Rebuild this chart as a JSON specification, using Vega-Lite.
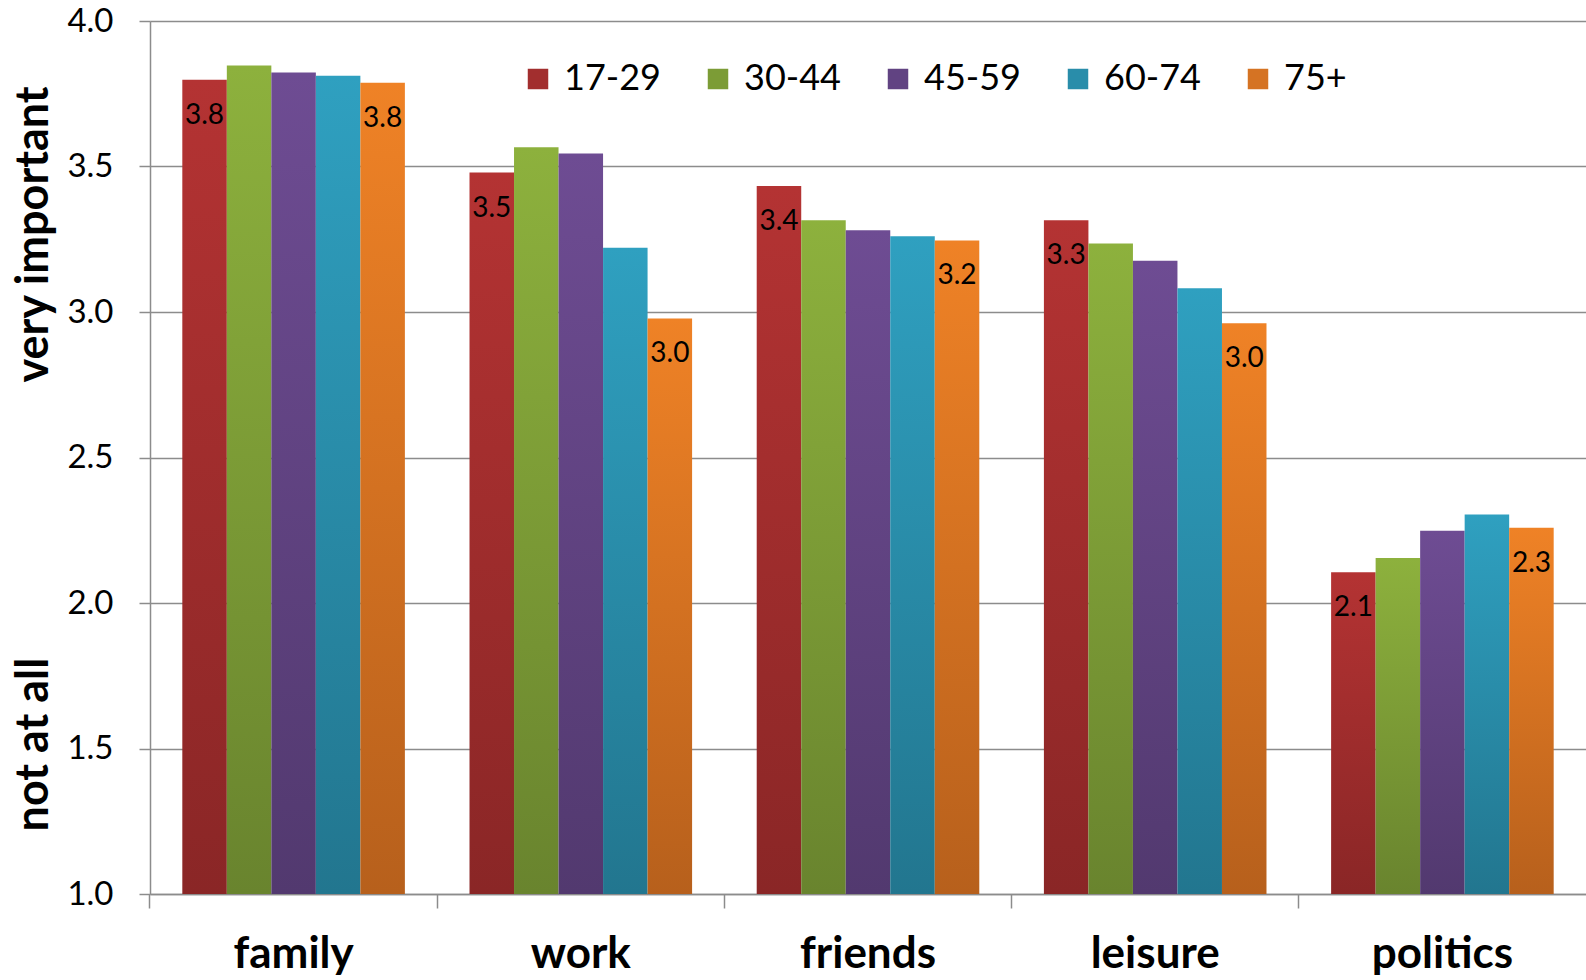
{
  "$schema": "https://vega.github.io/schema/vega-lite/v6.json",
  "width": 1436,
  "height": 873,
  "autosize": {"type": "none"},
  "padding": {"left": 150, "top": 21, "right": 0, "bottom": 86},
  "background": "white",
  "config": {"view": {"stroke": null}, "font": "Lato"},
  "data": {
    "values": [
      {"category": "family", "age": "17-29", "value": 3.798},
      {"category": "family", "age": "30-44", "value": 3.847},
      {"category": "family", "age": "45-59", "value": 3.823},
      {"category": "family", "age": "60-74", "value": 3.812},
      {"category": "family", "age": "75+", "value": 3.788},
      {"category": "work", "age": "17-29", "value": 3.479},
      {"category": "work", "age": "30-44", "value": 3.566},
      {"category": "work", "age": "45-59", "value": 3.545},
      {"category": "work", "age": "60-74", "value": 3.221},
      {"category": "work", "age": "75+", "value": 2.978},
      {"category": "friends", "age": "17-29", "value": 3.433},
      {"category": "friends", "age": "30-44", "value": 3.315},
      {"category": "friends", "age": "45-59", "value": 3.281},
      {"category": "friends", "age": "60-74", "value": 3.26},
      {"category": "friends", "age": "75+", "value": 3.246},
      {"category": "leisure", "age": "17-29", "value": 3.315},
      {"category": "leisure", "age": "30-44", "value": 3.235},
      {"category": "leisure", "age": "45-59", "value": 3.176},
      {"category": "leisure", "age": "60-74", "value": 3.082},
      {"category": "leisure", "age": "75+", "value": 2.961},
      {"category": "politics", "age": "17-29", "value": 2.106},
      {"category": "politics", "age": "30-44", "value": 2.155},
      {"category": "politics", "age": "45-59", "value": 2.248},
      {"category": "politics", "age": "60-74", "value": 2.304},
      {"category": "politics", "age": "75+", "value": 2.259}
    ]
  },
  "layer": [
    {
      "mark": {"type": "bar"},
      "encoding": {
        "x": {
          "field": "category",
          "type": "nominal",
          "sort": ["family", "work", "friends", "leisure", "politics"],
          "scale": {"paddingInner": 0.225, "paddingOuter": 0.1125},
          "title": null,
          "axis": {
            "labelAngle": 0,
            "labelFontSize": 44,
            "labelFontWeight": "bold",
            "labelColor": "black",
            "labelPadding": 24,
            "tickSize": 14,
            "tickColor": "#8c8c8c",
            "tickWidth": 1.5,
            "domainColor": "#8c8c8c",
            "domainWidth": 1.5,
            "bandPosition": -0.1452
          }
        },
        "xOffset": {"field": "age", "type": "nominal", "sort": ["17-29", "30-44", "45-59", "60-74", "75+"]},
        "y": {
          "field": "value",
          "type": "quantitative",
          "scale": {"domain": [1, 4], "zero": false, "nice": false},
          "axis": {
            "values": [1, 1.5, 2, 2.5, 3, 3.5, 4],
            "format": ".1f",
            "grid": true,
            "gridColor": "#8c8c8c",
            "gridWidth": 1.5,
            "domainColor": "#8c8c8c",
            "domainWidth": 1.5,
            "tickColor": "#8c8c8c",
            "tickWidth": 1.5,
            "tickSize": 11,
            "labelFontSize": 33,
            "labelColor": "black",
            "labelPadding": 26,
            "title": "very important",
            "titleFontSize": 45,
            "titleFontWeight": "bold",
            "titleColor": "black",
            "titleAngle": -90,
            "titleAlign": "center",
            "titleBaseline": "middle",
            "titleX": -117,
            "titleY": 213
          }
        },
        "y2": {"datum": 1},
        "color": {
          "condition": [
            {"test": "datum.age === '17-29'", "value": {"gradient": "linear", "x1": 0, "y1": 0, "x2": 0, "y2": 1, "stops": [{"offset": 0, "color": "#B43333"}, {"offset": 1, "color": "#8A2626"}]}},
            {"test": "datum.age === '30-44'", "value": {"gradient": "linear", "x1": 0, "y1": 0, "x2": 0, "y2": 1, "stops": [{"offset": 0, "color": "#8DB13D"}, {"offset": 1, "color": "#69842E"}]}},
            {"test": "datum.age === '45-59'", "value": {"gradient": "linear", "x1": 0, "y1": 0, "x2": 0, "y2": 1, "stops": [{"offset": 0, "color": "#6E4C93"}, {"offset": 1, "color": "#52396F"}]}},
            {"test": "datum.age === '60-74'", "value": {"gradient": "linear", "x1": 0, "y1": 0, "x2": 0, "y2": 1, "stops": [{"offset": 0, "color": "#2FA0C0"}, {"offset": 1, "color": "#22768F"}]}},
            {"test": "datum.age === '75+'", "value": {"gradient": "linear", "x1": 0, "y1": 0, "x2": 0, "y2": 1, "stops": [{"offset": 0, "color": "#EF8226"}, {"offset": 1, "color": "#B7601C"}]}}
          ],
          "field": "age",
          "type": "nominal",
          "scale": {
            "domain": ["17-29", "30-44", "45-59", "60-74", "75+"],
            "range": ["#A22E2E", "#7C9C36", "#614382", "#298DAA", "#D57323"]
          },
          "legend": {
            "orient": "none",
            "legendX": 370,
            "legendY": 40,
            "direction": "horizontal",
            "title": null,
            "symbolType": "square",
            "symbolSize": 420,
            "symbolStrokeWidth": 0,
            "symbolOpacity": 1,
            "labelFontSize": 36,
            "labelColor": "black",
            "labelOffset": 8,
            "columnPadding": 39
          }
        }
      }
    },
    {
      "transform": [{"filter": "datum.age === '17-29' || datum.age === '75+'"}],
      "mark": {"type": "text", "baseline": "top", "dy": 22, "fontSize": 28, "color": "black"},
      "encoding": {
        "x": {"field": "category", "type": "nominal", "sort": ["family", "work", "friends", "leisure", "politics"]},
        "xOffset": {"field": "age", "type": "nominal", "sort": ["17-29", "30-44", "45-59", "60-74", "75+"]},
        "y": {
          "field": "value",
          "type": "quantitative",
          "axis": {
            "orient": "left",
            "labels": false,
            "ticks": false,
            "domain": false,
            "grid": false,
            "title": "not at all",
            "titleFontSize": 45,
            "titleFontWeight": "bold",
            "titleColor": "black",
            "titleAngle": -90,
            "titleAlign": "center",
            "titleBaseline": "middle",
            "titleX": -117,
            "titleY": 723
          }
        },
        "text": {"field": "value", "type": "quantitative", "format": ".1f"}
      }
    }
  ],
  "resolve": {"axis": {"y": "independent"}}
}
